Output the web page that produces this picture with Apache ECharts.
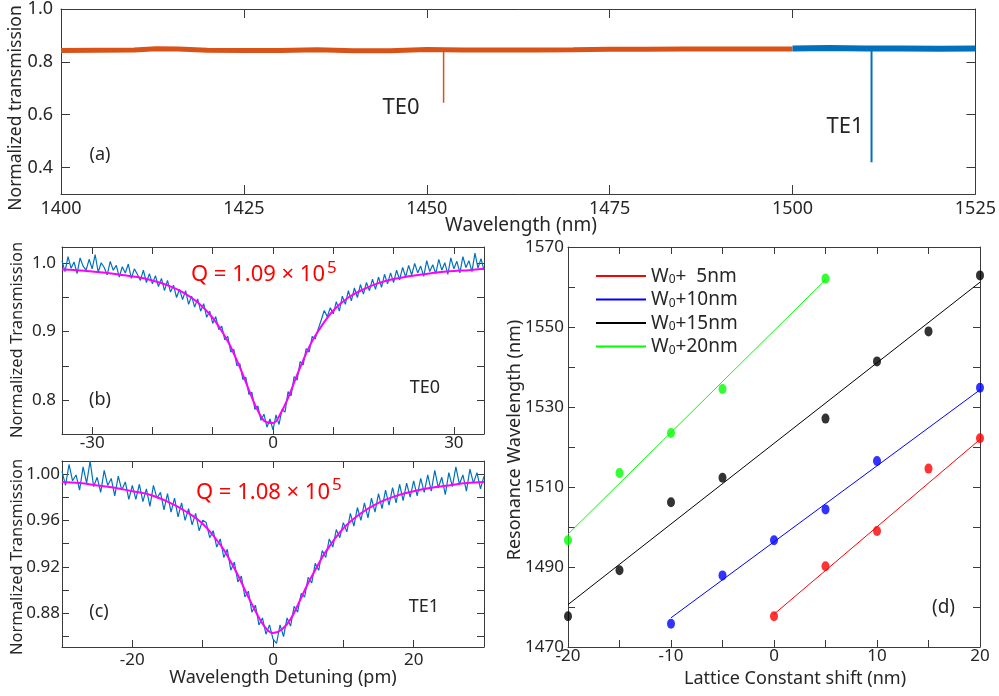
<!DOCTYPE html>
<html>
<head>
<meta charset="utf-8">
<title>Cavity resonances</title>
<script src="https://cdn.jsdelivr.net/npm/echarts@6/dist/echarts.min.js"></script>
<style>
  html, body { margin: 0; padding: 0; background: #fff; }
  #chart { width: 999px; height: 696px; }
</style>
</head>
<body>
<div id="chart"></div>
<script>
  // ---------------------------------------------------------------- data
  // (a) broadband transmission, two sweeps
  const waveOrange = [1400, 1405, 1410, 1413, 1416, 1420, 1425, 1430, 1435, 1440, 1445,
    1450, 1455, 1460, 1465, 1470, 1475, 1480, 1485, 1490, 1495, 1500];
  const transOrange = [0.843, 0.844, 0.845, 0.850, 0.849, 0.844, 0.843, 0.843, 0.846, 0.842, 0.842,
    0.847, 0.845, 0.845, 0.845, 0.846, 0.848, 0.848, 0.849, 0.849, 0.849, 0.849];
  const waveBlue = [1500, 1505, 1510, 1515, 1520, 1525];
  const transBlue = [0.851, 0.852, 0.851, 0.851, 0.850, 0.851];
  // resonance dips: TE0 (orange sweep), TE1 (blue sweep)
  const dipWave = [1452.3, 1510.8];
  const dipTop = [0.846, 0.851];
  const dipBottom = [0.645, 0.42];

  // (b) TE0 resonance, detuning sampled every 0.5 pm from -35 pm
  const detuneStartB = -35;
  const detuneStep = 0.5;
  const transB = [
    1.004, 0.988, 1.010, 0.993, 1.002, 0.985, 1.008, 0.996, 0.990, 1.006, 0.992, 1.013, 0.987, 1.001, 0.994, 0.983,
    1.003, 0.990, 0.997, 0.980, 0.995, 0.986, 0.999, 0.978, 0.992, 0.984, 0.975, 0.990, 0.972, 0.985, 0.970,
    0.982, 0.966, 0.978, 0.960, 0.975, 0.958, 0.968, 0.950, 0.962, 0.947, 0.960, 0.940, 0.952, 0.936, 0.948, 0.930,
    0.941, 0.921, 0.930, 0.912,
    0.922, 0.903, 0.908, 0.888, 0.893, 0.870, 0.874, 0.850, 0.853, 0.830, 0.833, 0.808, 0.811, 0.786, 0.791, 0.770,
    0.779, 0.760, 0.772, 0.756,
    0.778, 0.764, 0.786, 0.782, 0.812, 0.806, 0.834, 0.829, 0.856, 0.851, 0.875, 0.870, 0.893, 0.889, 0.904, 0.917,
    0.931, 0.922, 0.935, 0.926,
    0.944, 0.930, 0.952, 0.940, 0.960, 0.945, 0.964, 0.950, 0.969, 0.955, 0.972, 0.960, 0.977, 0.962, 0.980, 0.965,
    0.984, 0.970, 0.986, 0.972,
    0.990, 0.976, 0.994, 0.980, 0.997, 0.983, 1.000, 0.986, 0.996, 0.981, 1.004, 0.988, 0.998, 0.985, 1.006, 0.990,
    1.001, 0.984, 1.008, 0.992, 1.003, 0.986, 1.010, 0.994, 1.004, 0.988, 1.015, 0.993, 1.007, 0.990
  ];
  const fitDetuneB = [-35, -32.5, -30, -27.5, -25, -22.5, -20, -17.5, -15, -12.5, -10, -7.5,
    -6.25, -5, -3.75, -2.5, -1.25, 0, 1.25, 2.5, 3.75, 5, 6.25,
    7.5, 10, 12.5, 15, 17.5, 20, 22.5, 25, 27.5, 30, 32.5, 35];
  const fitTransB = [0.991, 0.990, 0.988, 0.986, 0.983, 0.980, 0.975, 0.968, 0.958, 0.943, 0.920, 0.886,
    0.863, 0.837, 0.809, 0.784, 0.768, 0.766, 0.780, 0.803, 0.831, 0.858, 0.882,
    0.901, 0.931, 0.950, 0.962, 0.971, 0.977, 0.981, 0.984, 0.987, 0.989, 0.990, 0.992];

  // (c) TE1 resonance, detuning sampled every 0.5 pm from -30 pm
  const detuneStartC = -30;
  const transC = [
    1.002, 0.990, 1.008, 0.994, 0.999, 0.986, 1.006, 0.992, 1.011, 0.989, 0.997, 0.984, 1.003, 0.990, 0.996, 0.981,
    0.998, 0.986, 0.993, 0.978, 0.990,
    0.978, 0.991, 0.976, 0.987, 0.972, 0.990, 0.979, 0.984, 0.969, 0.983, 0.967, 0.979, 0.963, 0.975, 0.960, 0.970,
    0.956, 0.966, 0.951, 0.960,
    0.958, 0.945, 0.951, 0.937, 0.944, 0.928, 0.935, 0.917, 0.924, 0.907, 0.912, 0.894, 0.899, 0.881, 0.887, 0.870,
    0.876, 0.862, 0.870, 0.858,
    0.854, 0.870, 0.860, 0.876, 0.869, 0.886, 0.881, 0.897, 0.894, 0.911, 0.906, 0.923, 0.917, 0.934, 0.928, 0.944,
    0.937, 0.952, 0.945, 0.958,
    0.950, 0.966, 0.955, 0.971, 0.960, 0.975, 0.962, 0.979, 0.967, 0.983, 0.970, 0.986, 0.973, 0.988, 0.975, 0.991,
    0.977, 0.992, 0.980, 0.994,
    0.981, 0.996, 0.984, 0.999, 0.985, 1.003, 0.988, 0.997, 0.982, 1.001, 0.989, 1.006, 0.991, 0.999, 0.985, 1.004,
    0.992, 1.001, 0.987, 0.998
  ];
  const fitDetuneC = [-30, -27.5, -25, -22.5, -20, -17.5, -15, -12.5, -10, -7.5,
    -6.25, -5, -3.75, -2.5, -1.25, 0, 1.25, 2.5, 3.75, 5, 6.25,
    7.5, 10, 12.5, 15, 17.5, 20, 22.5, 25, 27.5, 30];
  const fitTransC = [0.993, 0.992, 0.990, 0.988, 0.985, 0.982, 0.976, 0.968, 0.957, 0.939,
    0.927, 0.913, 0.897, 0.882, 0.869, 0.863, 0.866, 0.875, 0.890, 0.906, 0.920,
    0.933, 0.953, 0.966, 0.975, 0.981, 0.985, 0.988, 0.990, 0.992, 0.993];

  // (d) resonance wavelength vs lattice constant shift, per waveguide width
  const widthNames = ['W0+  5nm', 'W0+10nm', 'W0+15nm', 'W0+20nm'];
  const widthColors = ['#ff0000', '#0000ff', '#000000', '#00ff00'];
  const shift5 = [0, 5, 10, 15, 20];
  const res5 = [1477.7, 1490.2, 1499.0, 1514.6, 1522.2];
  const shift10 = [-10, -5, 0, 5, 10, 20];
  const res10 = [1475.8, 1487.9, 1496.7, 1504.4, 1516.5, 1534.8];
  const shift15 = [-20, -15, -10, -5, 5, 10, 15, 20];
  const res15 = [1477.7, 1489.2, 1506.2, 1512.3, 1527.1, 1541.4, 1548.9, 1562.9];
  const shift20 = [-20, -15, -10, -5, 5];
  const res20 = [1496.7, 1513.5, 1523.5, 1534.5, 1562.1];
  // linear fits, end points
  const fitShift5 = [0, 20], fitRes5 = [1478.2, 1521.9];
  const fitShift10 = [-10, 20], fitRes10 = [1477.3, 1534.3];
  const fitShift15 = [-20, 20], fitRes15 = [1480.6, 1561.2];
  const fitShift20 = [-20, 5], fitRes20 = [1498.2, 1561.8];

  // ------------------------------------------------------------- helpers
  const FONT = '"Noto Sans", "DejaVu Sans", sans-serif';
  const INK = '#262626';
  const FRAME = '#3a3a3a';
  const zip = (xs, ys) => xs.map((x, i) => [x, ys[i]]);
  const detuneB = transB.map((_, i) => detuneStartB + i * detuneStep);
  const detuneC = transC.map((_, i) => detuneStartC + i * detuneStep);

  const axis = (grid, position, min, max, ticks, labels, o = {}) => ({
    type: 'value',
    gridIndex: grid,
    position,
    min,
    max,
    axisLine: { show: true, onZero: false, lineStyle: { color: FRAME, width: 1 } },
    axisTick: {
      show: true, inside: true, length: o.tick || 7, customValues: ticks,
      lineStyle: { color: FRAME, width: 1 }
    },
    axisLabel: labels
      ? {
        show: true, customValues: labels, margin: o.margin, color: INK,
        fontFamily: FONT, fontSize: o.size || 17, formatter: o.fmt
      }
      : { show: false },
    splitLine: { show: false }
  });

  const text = (str, x, y, size, extra = {}) => ({
    type: 'text',
    x,
    y,
    rotation: extra.rotate ? Math.PI / 2 : 0,
    silent: true,
    style: {
      text: str,
      x: 0,
      y: 0,
      fill: extra.color || INK,
      font: `${size}px ${FONT}`,
      textAlign: extra.align || 'center',
      textVerticalAlign: 'middle'
    }
  });

  const f1 = v => v.toFixed(1);
  const f2 = v => v.toFixed(2);
  const f0 = v => String(Math.round(v));

  // ticks
  const ticksA = [1400, 1425, 1450, 1475, 1500, 1525];
  const ticksAy = [0.4, 0.6, 0.8, 1.0];
  const ticksBx = [-30, -20, -10, 0, 10, 20, 30];
  const labelsBx = [-30, 0, 30];
  const ticksBy = [0.75, 0.8, 0.85, 0.9, 0.95, 1.0];
  const labelsBy = [0.8, 0.9, 1.0];
  const ticksCx = [-20, -10, 0, 10, 20];
  const labelsCx = [-20, 0, 20];
  const ticksCy = [0.86, 0.88, 0.9, 0.92, 0.94, 0.96, 0.98, 1.0];
  const labelsCy = [0.88, 0.92, 0.96, 1.0];
  const ticksDx = [-20, -15, -10, -5, 0, 5, 10, 15, 20];
  const labelsDx = [-20, -10, 0, 10, 20];
  const ticksDy = [1470, 1480, 1490, 1500, 1510, 1520, 1530, 1540, 1550, 1560, 1570];
  const labelsDy = [1470, 1490, 1510, 1530, 1550, 1570];

  const chart = echarts.init(document.getElementById('chart'), null, { renderer: 'canvas' });

  const lineSeries = (name, x, y, data, color, width, extra = {}) => Object.assign({
    name,
    type: 'line',
    xAxisIndex: x,
    yAxisIndex: y,
    data,
    symbol: 'none',
    lineStyle: { color, width },
    itemStyle: { color },
    z: 2
  }, extra);

  const dotSeries = (name, data, color) => ({
    name,
    type: 'scatter',
    xAxisIndex: 6,
    yAxisIndex: 6,
    data,
    symbol: 'circle',
    symbolSize: [8, 10],
    itemStyle: { color },
    z: 4
  });

  const option = {
    animation: false,
    backgroundColor: '#fff',
    grid: [
      { left: 61, top: 7, width: 920, height: 187 },
      { left: 62, top: 247, width: 422, height: 187 },
      { left: 62, top: 461, width: 422, height: 186 },
      { left: 568, top: 247, width: 412, height: 400 }
    ],
    xAxis: [
      axis(0, 'bottom', 1400, 1525, ticksA, ticksA, { tick: 9, margin: 6, size: 18, fmt: f0 }),
      axis(0, 'top', 1400, 1525, ticksA, null, { tick: 9 }),
      axis(1, 'bottom', -35, 35, ticksBx, labelsBx, { margin: 1, fmt: f0 }),
      axis(1, 'top', -35, 35, ticksBx, null),
      axis(2, 'bottom', -30, 30, ticksCx, labelsCx, { margin: 5, fmt: f0 }),
      axis(2, 'top', -30, 30, ticksCx, null),
      axis(3, 'bottom', -20, 20, ticksDx, labelsDx, { margin: 1, fmt: f0 }),
      axis(3, 'top', -20, 20, ticksDx, null)
    ],
    yAxis: [
      axis(0, 'left', 0.3, 1.0, ticksAy, ticksAy, { tick: 9, margin: 8, size: 18, fmt: f1 }),
      axis(0, 'right', 0.3, 1.0, ticksAy, null, { tick: 9 }),
      axis(1, 'left', 0.75, 1.024, ticksBy, labelsBy, { margin: 6, fmt: f1 }),
      axis(1, 'right', 0.75, 1.024, ticksBy, null),
      axis(2, 'left', 0.851, 1.011, ticksCy, labelsCy, { margin: 2, fmt: f2 }),
      axis(2, 'right', 0.851, 1.011, ticksCy, null),
      axis(3, 'left', 1470, 1570, ticksDy, labelsDy, { margin: 4, fmt: f0 }),
      axis(3, 'right', 1470, 1570, ticksDy, null)
    ],
    legend: {
      data: widthNames.map(name => ({ name, icon: 'rect' })),
      orient: 'vertical',
      left: 596,
      top: 267,
      padding: 0,
      itemWidth: 50,
      itemHeight: 2,
      itemGap: 4.5,
      selectedMode: false,
      formatter: name => `{w|W}{s|0}{w|${name.slice(2)}}`,
      textStyle: {
        color: INK,
        fontFamily: FONT,
        fontSize: 19,
        rich: {
          w: { fontFamily: FONT, fontSize: 19, lineHeight: 20, color: INK, verticalAlign: 'bottom' },
          s: { fontFamily: FONT, fontSize: 12, lineHeight: 20, color: INK, verticalAlign: 'bottom' }
        }
      }
    },
    series: [
      // (a)
      lineSeries('sweep1', 0, 0, zip(waveOrange, transOrange), '#d95319', 5),
      lineSeries('sweep2', 0, 0, zip(waveBlue, transBlue), '#0072bd', 6),
      lineSeries('dipTE0', 0, 0, [[dipWave[0], dipTop[0]], [dipWave[0], dipBottom[0]]], '#d95319', 1.5, { z: 3 }),
      lineSeries('dipTE1', 0, 0, [[dipWave[1], dipTop[1]], [dipWave[1], dipBottom[1]]], '#0072bd', 2, { z: 3 }),
      // (b)
      lineSeries('dataB', 2, 2, zip(detuneB, transB), '#0072bd', 1.2),
      lineSeries('fitB', 2, 2, zip(fitDetuneB, fitTransB), '#ff00ff', 2, { smooth: 0.4, z: 3 }),
      // (c)
      lineSeries('dataC', 4, 4, zip(detuneC, transC), '#0072bd', 1.2),
      lineSeries('fitC', 4, 4, zip(fitDetuneC, fitTransC), '#ff00ff', 2, { smooth: 0.4, z: 3 }),
      // (d)
      lineSeries(widthNames[0], 6, 6, zip(fitShift5, fitRes5), widthColors[0], 1),
      lineSeries(widthNames[1], 6, 6, zip(fitShift10, fitRes10), widthColors[1], 1),
      lineSeries(widthNames[2], 6, 6, zip(fitShift15, fitRes15), widthColors[2], 1),
      lineSeries(widthNames[3], 6, 6, zip(fitShift20, fitRes20), widthColors[3], 1),
      dotSeries('pts5', zip(shift5, res5), widthColors[0]),
      dotSeries('pts10', zip(shift10, res10), widthColors[1]),
      dotSeries('pts15', zip(shift15, res15), widthColors[2]),
      dotSeries('pts20', zip(shift20, res20), widthColors[3])
    ],
    graphic: [
      // (a)
      text('Normalized transmission', 16, 108, 17.5, { rotate: true }),
      text('Wavelength (nm)', 521, 226, 19),
      text('TE0', 401, 108, 22),
      text('TE1', 845, 127, 22),
      text('(a)', 100, 155, 18),
      // (b)
      text('Normalized Transmission', 17, 340, 16.5, { rotate: true }),
      text('Q = 1.09 \u00d7 10', 325, 275, 22, { color: '#ff0000', align: 'right' }),
      text('5', 327, 268, 17, { color: '#ff0000', align: 'left' }),
      text('TE0', 425, 388, 18),
      text('(b)', 100, 400, 18),
      // (c)
      text('Normalized Transmission', 17, 557, 16.5, { rotate: true }),
      text('Wavelength Detuning (pm)', 283, 678, 18),
      text('Q = 1.08 \u00d7 10', 330, 493, 22, { color: '#ff0000', align: 'right' }),
      text('5', 332, 485.5, 17, { color: '#ff0000', align: 'left' }),
      text('TE1', 424, 607, 18),
      text('(c)', 99, 611.5, 18),
      // (d)
      text('Resonance Wavelength (nm)', 515, 440, 18, { rotate: true }),
      text('Lattice Constant shift (nm)', 795, 679, 18),
      text('(d)', 943.5, 607.5, 19)
    ]
  };

  chart.setOption(option);
</script>
</body>
</html>
